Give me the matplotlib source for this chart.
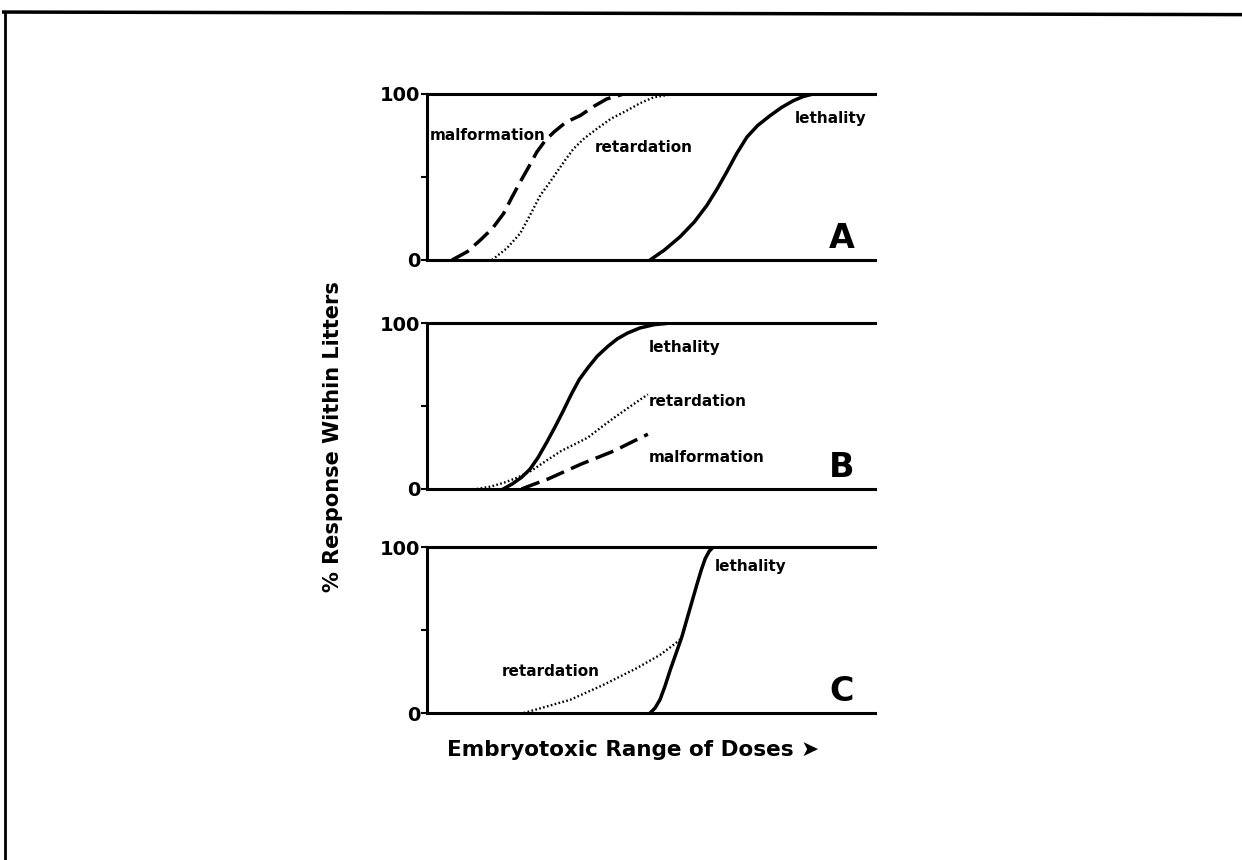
import numpy as np
import matplotlib
matplotlib.use('Agg')
import matplotlib.pyplot as plt
from matplotlib.lines import Line2D

# Dose axis in % of the embryotoxic range, response in % within litters
# Panel A
a_mal_x = [5.6, 9.0, 11.9, 14.6, 17.1, 19.0, 20.8, 22.7, 24.5, 26.4, 28.3, 31.0, 34.2, 37.2, 40.1, 43.9]
a_mal_y = [0, 5, 12, 19, 28, 38, 47, 56, 65, 72, 77, 83, 87, 92.5, 97, 100]
a_ret_x = [14.5, 17.8, 20.8, 23.0, 25.3, 27.2, 29.0, 30.8, 32.7, 35.0, 37.9, 41.0, 44.6, 47.6, 50.6, 55.0]
a_ret_y = [0, 7, 16, 27, 39, 46, 53, 60, 67, 73, 79, 85, 90, 94.5, 98, 100]
a_let_x = [49.8, 53.0, 56.5, 59.7, 62.5, 64.8, 66.9, 69.1, 71.4, 73.8, 76.6, 79.2, 81.8, 84.0, 86.2, 100]
a_let_y = [0, 6, 14, 23, 33, 43, 53, 64, 74, 81, 87, 92, 96, 98.5, 100, 100]

# Panel B
b_let_x = [17.0, 19.0, 21.1, 23.0, 24.8, 26.7, 28.5, 30.4, 32.2, 34.0, 35.9, 38.0, 40.4, 42.5, 44.8, 47.5, 50.7, 54.4, 100]
b_let_y = [0, 3, 7, 12, 19, 28, 37, 47, 57, 66, 73, 80, 86, 90.5, 94, 97, 99, 100, 100]
b_ret_x = [11.1, 14.3, 17.4, 20.3, 23.3, 26.6, 30.0, 33.0, 35.9, 38.8, 41.8, 45.5, 49.3]
b_ret_y = [0, 1.5, 4, 7, 11, 17, 23, 27, 31, 37, 43, 50, 57]
b_mal_x = [21.1, 24.0, 27.0, 30.7, 34.4, 38.1, 41.8, 45.5, 49.3]
b_mal_y = [0, 3, 6, 10.5, 15, 19, 23, 28, 33]

# Panel C
c_ret_x = [21.6, 26.8, 32.0, 35.7, 39.4, 43.1, 46.8, 49.4, 52.0, 54.5, 56.9]
c_ret_y = [0, 4, 8, 12.5, 17, 22, 27, 31, 35, 40, 45]
c_let_x = [49.8, 50.9, 52.0, 53.1, 54.3, 56.9, 60.2, 61.2, 62.1, 63.0, 63.9, 100]
c_let_y = [0, 3, 8, 16, 26, 46, 77, 86, 93, 97.5, 100, 100]

panel_letters = ['A', 'B', 'C']

BOLD = dict(fontweight='heavy', family='DejaVu Sans')

fig = plt.figure(figsize=(12.42, 8.6), dpi=100)
fig.patch.set_facecolor('white')

# page border (top and left edges only)
fig.add_artist(Line2D([0.003, 1.0], [0.986, 0.983], color='black', lw=2.5))
fig.add_artist(Line2D([0.004, 0.004], [0.0, 0.986], color='black', lw=2))

left, width, height = 0.3438, 0.3607, 0.193
bottoms = [0.6977, 0.4314, 0.1709]
axes = [fig.add_axes([left, b, width, height]) for b in bottoms]


def style_axis(ax, letter):
    ax.set_xlim(0, 100)
    ax.set_ylim(0, 100)
    for side in ['top', 'bottom', 'left']:
        ax.spines[side].set_linewidth(2.2)
    ax.spines['right'].set_visible(False)
    ax.set_xticks([])
    ax.set_yticks([0, 50, 100])
    ax.set_yticklabels(['0', '', '100'], fontsize=14, **BOLD)
    ax.tick_params(axis='y', length=4, width=1.5, pad=1)
    ax.text(92.5, 13, letter, fontsize=24, ha='center', va='center', **BOLD)


dash = dict(color='black', lw=2.5, linestyle=(0, (5.5, 2.2)), solid_joinstyle='round')
dots = dict(color='black', lw=1.7, linestyle=(0, (0.7, 1.0)))
solid = dict(color='black', lw=2.5, solid_joinstyle='round')
LAB = 11

ax = axes[0]
ax.plot(a_mal_x, a_mal_y, **dash)
ax.plot(a_ret_x, a_ret_y, **dots)
ax.plot(a_let_x, a_let_y, **solid)
ax.text(0.7, 75, 'malformation', fontsize=LAB, va='center', ha='left', **BOLD)
ax.text(37.5, 68, 'retardation', fontsize=LAB, va='center', ha='left', **BOLD)
ax.text(82.2, 85, 'lethality', fontsize=LAB, va='center', ha='left', **BOLD)
style_axis(ax, panel_letters[0])

ax = axes[1]
ax.plot(b_let_x, b_let_y, **solid)
ax.plot(b_ret_x, b_ret_y, **dots)
ax.plot(b_mal_x, b_mal_y, **dash)
ax.text(49.6, 85, 'lethality', fontsize=LAB, va='center', ha='left', **BOLD)
ax.text(49.6, 53, 'retardation', fontsize=LAB, va='center', ha='left', **BOLD)
ax.text(49.6, 19, 'malformation', fontsize=LAB, va='center', ha='left', **BOLD)
style_axis(ax, panel_letters[1])

ax = axes[2]
ax.plot(c_ret_x, c_ret_y, **dots)
ax.plot(c_let_x, c_let_y, **solid)
ax.text(64.3, 88, 'lethality', fontsize=LAB, va='center', ha='left', **BOLD)
ax.text(16.7, 25, 'retardation', fontsize=LAB, va='center', ha='left', **BOLD)
style_axis(ax, panel_letters[2])

fig.text(0.268, 0.492, '% Response Within Litters', rotation=90,
         fontsize=15, ha='center', va='center', **BOLD)
fig.text(0.51, 0.128, 'Embryotoxic Range of Doses \u27a4',
         fontsize=15.5, ha='center', va='center', **BOLD)

fig.savefig('out.png', dpi=100, facecolor='white')
